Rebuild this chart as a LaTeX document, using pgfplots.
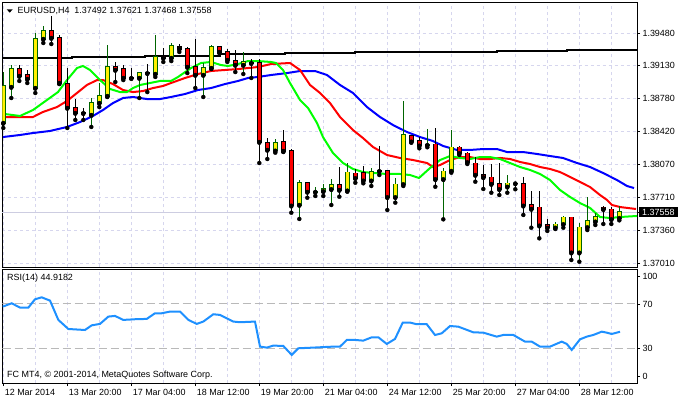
\documentclass[border=0pt]{standalone}
\usepackage{pgfplots}
\pgfplotsset{compat=1.18}
\usepackage{pgfplotstable}
\usepackage{fontspec}
\setmainfont{Liberation Sans}
\newcommand\cf{\fontsize{9}{10.8}\selectfont}
\definecolor{gridc}{RGB}{214,214,238}
\definecolor{bullw}{RGB}{0,100,0}
\definecolor{rsic}{RGB}{30,144,255}
\definecolor{lvl}{RGB}{185,185,185}
\definecolor{pline}{RGB}{205,205,225}

\pgfplotstableread{
k O H L C
0 1.38514 1.39061 1.38460 1.38911
1 1.38900 1.39136 1.38782 1.39093
4 1.38889 1.39480 1.38836 1.39416
5 1.39416 1.39555 1.39373 1.39501
11 1.38599 1.38782 1.38471 1.38728
12 1.38728 1.38943 1.38685 1.38803
13 1.38803 1.39351 1.38793 1.39115
17 1.38997 1.39054 1.38782 1.39050
19 1.39040 1.39459 1.39008 1.39222
21 1.39212 1.39373 1.39179 1.39340
25 1.39029 1.39158 1.38793 1.39104
26 1.39104 1.39351 1.39093 1.39330
30 1.39136 1.39276 1.39040 1.39169
34 1.38216 1.38342 1.38195 1.38302
37 1.37633 1.37901 1.37483 1.37869
39 1.37773 1.37826 1.37730 1.37775
40 1.37780 1.37858 1.37730 1.37805
41 1.37802 1.37912 1.37633 1.37848
43 1.37787 1.38081 1.37776 1.37984
46 1.37894 1.38027 1.37837 1.37991
49 1.37716 1.37920 1.37658 1.37855
50 1.37855 1.38753 1.37837 1.38385
53 1.38277 1.38449 1.38253 1.38279
55 1.37909 1.38030 1.37479 1.37995
56 1.37998 1.38438 1.37980 1.38253
63 1.37829 1.37955 1.37765 1.37866
69 1.37389 1.37447 1.37375 1.37426
70 1.37426 1.37515 1.37389 1.37501
72 1.37121 1.37443 1.37024 1.37393
73 1.37393 1.37716 1.37364 1.37461
74 1.37454 1.37550 1.37418 1.37507
77 1.37492 1.37621 1.37468 1.37558
}\bull

\pgfplotstableread{
k O H L C
2 1.39093 1.39136 1.38965 1.39018
3 1.39029 1.39083 1.38943 1.38986
6 1.39501 1.39663 1.39362 1.39426
7 1.39426 1.39459 1.38932 1.38943
8 1.38932 1.39104 1.38460 1.38675
9 1.38675 1.38771 1.38546 1.38621
10 1.38621 1.38675 1.38546 1.38619
14 1.39115 1.39169 1.38954 1.39083
15 1.39093 1.39136 1.38975 1.38997
16 1.38997 1.39104 1.38992 1.38995
18 1.39050 1.39147 1.38846 1.39048
20 1.39233 1.39319 1.39169 1.39212
22 1.39330 1.39362 1.39276 1.39308
23 1.39308 1.39330 1.39050 1.39115
24 1.39115 1.39416 1.38889 1.39029
27 1.39330 1.39340 1.39265 1.39276
28 1.39276 1.39308 1.39169 1.39190
29 1.39179 1.39297 1.39061 1.39136
31 1.39158 1.39201 1.38997 1.39156
32 1.39158 1.39201 1.38084 1.38309
33 1.38302 1.38352 1.38127 1.38224
35 1.38309 1.38438 1.38202 1.38213
36 1.38213 1.38234 1.37550 1.37625
38 1.37869 1.37872 1.37711 1.37773
42 1.37848 1.38041 1.37722 1.37794
44 1.37973 1.38016 1.37872 1.37920
45 1.37977 1.38052 1.37866 1.37894
47 1.37998 1.38267 1.37955 1.37996
48 1.37998 1.38000 1.37579 1.37716
51 1.38374 1.38387 1.38302 1.38313
52 1.38320 1.38360 1.38242 1.38270
54 1.38285 1.38457 1.37829 1.37909
57 1.38253 1.38267 1.38170 1.38188
58 1.38188 1.38205 1.38073 1.38091
59 1.38081 1.38152 1.37883 1.37955
60 1.37955 1.38062 1.37805 1.37930
61 1.37930 1.38073 1.37765 1.37858
62 1.37858 1.38087 1.37740 1.37802
64 1.37866 1.37883 1.37802 1.37864
65 1.37858 1.37930 1.37526 1.37625
66 1.37633 1.37787 1.37389 1.37590
67 1.37608 1.37787 1.37275 1.37411
68 1.37418 1.37479 1.37354 1.37389
71 1.37501 1.37503 1.37042 1.37121
75 1.37608 1.37622 1.37429 1.37587
76 1.37587 1.37608 1.37429 1.37479
}\bear

\pgfplotsset{
  wick/.style={only marks, mark=none, forget plot, error bars/.cd, y dir=plus, y explicit, error mark=none, error bar style={line width=1bp, solid, draw=#1}},
  body/.style 2 args={only marks, mark=none, forget plot, error bars/.cd, y dir=plus, y explicit, error mark=none, error bar style={line width=#2, solid, draw=#1}},
}

\begin{document}
\begin{tikzpicture}
\path[use as bounding box] (0,0) rectangle (680bp,-400bp);

\begin{axis}[
  at={(2.5bp,-2.3bp)}, anchor=north west, scale only axis,
  width=634.5bp, height=264.7bp,
  xmin=-0.1, xmax=79.21, ymin=1.36967, ymax=1.39810,
  axis line style={line width=0.9bp, black},
  xtick={0,4,...,76}, xticklabels={}, xtick style={draw=none},
  xmajorgrids, ymajorgrids,
  major grid style={gridc, dash pattern=on 3bp off 3bp, line width=0.8bp},
  ytick={1.37010,1.37360,1.37710,1.38070,1.38420,1.38780,1.39130,1.39480},
  yticklabels={1.37010,1.37360,1.37710,1.38070,1.38420,1.38780,1.39130,1.39480},
  ytick pos=right, tick align=outside, major tick length=3bp,
  ytick style={black, line width=0.8bp},
  yticklabel style={font=\cf, anchor=west, xshift=-1bp},
  extra y ticks={1.37558}, extra y tick labels={1.37558},
  extra y tick style={ymajorgrids, major grid style={pline, solid, line width=0.8bp},
     tick label style={fill=black, text=white, inner xsep=3bp, inner ysep=1.5bp}},
]
\addplot[black, line width=2bp, const plot] coordinates {(-0.1,1.39215) (8.6,1.39225) (17.7,1.39236) (27.1,1.39251) (35.2,1.39262) (44.0,1.39273) (53.0,1.39279) (61.7,1.39287) (70.5,1.39297) (79.21,1.39297)};
\addplot[blue, line width=2bp] coordinates {(-0.04,1.38363) (2.09,1.38385) (3.71,1.38406) (5.84,1.38428) (7.96,1.38471) (9.59,1.38524) (11.21,1.38589) (12.46,1.38653) (13.71,1.38728) (14.96,1.38782) (16.21,1.38793) (17.96,1.38771) (19.59,1.38771) (20.96,1.38793) (22.71,1.38825) (24.34,1.38868) (25.96,1.38889) (27.71,1.38932) (29.34,1.38965) (30.59,1.38997) (31.84,1.39008) (33.46,1.39029) (35.46,1.39050) (37.09,1.39072) (38.96,1.39072) (40.46,1.39029) (42.09,1.38922) (43.71,1.38836) (45.46,1.38685) (47.09,1.38578) (48.71,1.38492) (50.46,1.38417) (52.09,1.38363) (53.71,1.38320) (54.96,1.38267) (56.71,1.38224) (58.34,1.38224) (59.96,1.38234) (61.71,1.38234) (62.96,1.38202) (64.96,1.38202) (66.71,1.38181) (68.34,1.38159) (69.96,1.38138) (71.71,1.38084) (73.34,1.38041) (74.96,1.37977) (76.71,1.37901) (77.96,1.37837) (78.84,1.37815)};
\addplot[red, line width=2bp] coordinates {(0.21,1.38578) (2.09,1.38578) (3.71,1.38578) (4.96,1.38632) (6.71,1.38685) (7.96,1.38750) (9.21,1.38836) (10.46,1.38922) (11.71,1.38975) (12.46,1.38975) (13.71,1.38932) (14.96,1.38868) (16.21,1.38846) (17.46,1.38857) (18.71,1.38889) (19.96,1.38911) (20.96,1.38943) (22.71,1.38997) (24.34,1.39040) (25.96,1.39072) (27.71,1.39083) (29.34,1.39093) (30.59,1.39104) (31.84,1.39115) (33.46,1.39147) (35.84,1.39158) (37.09,1.39083) (38.34,1.38922) (39.59,1.38836) (40.84,1.38728) (42.09,1.38578) (43.71,1.38438) (44.96,1.38352) (46.21,1.38256) (47.96,1.38170) (49.59,1.38138) (51.21,1.38116) (52.96,1.38084) (53.71,1.38041) (54.59,1.38062) (55.84,1.38116) (57.09,1.38148) (58.34,1.38148) (59.59,1.38127) (60.84,1.38127) (62.09,1.38138) (63.34,1.38127) (64.59,1.38095) (65.84,1.38073) (67.09,1.38041) (68.34,1.38020) (69.59,1.37987) (70.84,1.37934) (72.09,1.37880) (73.34,1.37826) (74.59,1.37740) (75.46,1.37687) (76.09,1.37633) (77.09,1.37611) (79.09,1.37590)};
\addplot[green, line width=2bp] coordinates {(0.21,1.38610) (2.09,1.38589) (3.71,1.38653) (5.46,1.38761) (6.84,1.38846) (7.96,1.38975) (9.21,1.39104) (9.96,1.39126) (10.84,1.39083) (12.09,1.38975) (13.34,1.38879) (14.59,1.38846) (15.46,1.38846) (16.21,1.38889) (17.09,1.38922) (18.34,1.38943) (19.59,1.38965) (20.96,1.38965) (21.84,1.39008) (23.46,1.39104) (24.71,1.39158) (25.96,1.39169) (27.21,1.39136) (28.09,1.39126) (29.34,1.39147) (30.59,1.39179) (31.84,1.39179) (33.46,1.39169) (34.09,1.39158) (34.96,1.39083) (35.84,1.38943) (37.09,1.38761) (38.09,1.38675) (39.21,1.38514) (39.96,1.38363) (41.21,1.38191) (42.46,1.38084) (43.71,1.38020) (44.96,1.37987) (46.21,1.37977) (47.96,1.37966) (49.59,1.37966) (50.84,1.37955) (51.96,1.37923) (53.34,1.38030) (54.59,1.38116) (55.84,1.38159) (57.09,1.38138) (58.34,1.38127) (59.59,1.38148) (60.84,1.38148) (62.09,1.38127) (63.34,1.38084) (64.59,1.38041) (65.84,1.38009) (67.09,1.37966) (68.34,1.37901) (69.59,1.37794) (70.84,1.37719) (72.09,1.37654) (73.34,1.37601) (74.59,1.37504) (75.84,1.37493) (77.09,1.37504) (79.21,1.37515)};

\addplot[wick=bullw] table[x=k, y=L, y error expr=\thisrow{H}-\thisrow{L}] {\bull};
\addplot[wick=black] table[x=k, y=L, y error expr=\thisrow{H}-\thisrow{L}] {\bear};
\addplot[body={bullw}{5bp}] table[x=k, y expr={min(\thisrow{O},\thisrow{C})-0.00007}, y error expr={abs(\thisrow{C}-\thisrow{O})+0.00014}] {\bull};
\addplot[body={yellow}{3bp}] table[x=k, y expr={min(\thisrow{O},\thisrow{C})}, y error expr={abs(\thisrow{C}-\thisrow{O})}] {\bull};
\addplot[body={black}{5bp}] table[x=k, y expr={min(\thisrow{O},\thisrow{C})-0.00007}, y error expr={abs(\thisrow{C}-\thisrow{O})+0.00014}] {\bear};
\addplot[body={red}{3bp}] table[x=k, y expr={min(\thisrow{O},\thisrow{C})}, y error expr={abs(\thisrow{C}-\thisrow{O})}] {\bear};
\end{axis}

\begin{axis}[
  at={(2.5bp,-269.5bp)}, anchor=north west, scale only axis,
  width=634.5bp, height=113.5bp,
  xmin=-0.1, xmax=79.21, ymin=-1.35, ymax=101.1,
  axis line style={line width=0.9bp, black},
  xtick={0,8,...,72},
  xticklabels={12 Mar 2014,13 Mar 20:00,17 Mar 04:00,18 Mar 12:00,19 Mar 20:00,21 Mar 04:00,24 Mar 12:00,25 Mar 20:00,27 Mar 04:00,28 Mar 12:00},
  minor xtick={4,12,...,76},
  xmajorgrids, xminorgrids,
  major grid style={gridc, dash pattern=on 3bp off 3bp, line width=0.8bp},
  minor grid style={gridc, dash pattern=on 3bp off 3bp, line width=0.8bp},
  minor tick length=0bp,
  ytick={5,30,70}, yticklabels={0,30,70},
  extra y ticks={95}, extra y tick labels={100},
  ytick pos=right, xtick pos=bottom, tick align=outside,
  major tick length=3bp,
  tick style={black, line width=0.8bp},
  yticklabel style={font=\cf, anchor=west, xshift=-1bp},
  xticklabel style={font=\cf, anchor=north west, xshift=-2bp},
]
\addplot[lvl, dash pattern=on 8bp off 4bp, line width=1bp] coordinates {(-0.1,70) (79.21,70)};
\addplot[lvl, dash pattern=on 8bp off 4bp, line width=1bp] coordinates {(-0.1,30) (79.21,30)};
\addplot[rsic, line width=2bp] coordinates {(-0.07,67.6) (1.05,70.6) (2.09,66.7) (3.13,66.7) (3.96,74.2) (4.8,76.0) (5.84,73.0) (6.88,55.6) (8.13,47.4) (10.21,46.5) (11.05,50.7) (12.09,52.0) (13.13,58.6) (13.96,59.2) (15.0,55.6) (16.46,56.2) (17.93,56.5) (18.96,61.6) (19.8,61.6) (20.84,63.1) (22.09,63.1) (23.13,55.6) (24.18,52.0) (25.0,54.1) (26.25,60.7) (27.09,60.1) (28.75,54.1) (29.59,53.5) (31.46,54.1) (32.09,31.5) (32.93,30.6) (33.75,32.4) (35.0,32.1) (36.05,24.0) (36.88,30.0) (38.75,30.6) (41.25,31.5) (42.09,31.5) (42.93,37.5) (43.96,37.5) (45.0,36.9) (46.05,39.9) (46.88,39.9) (47.93,33.9) (48.96,38.4) (49.93,53.2) (50.84,53.2) (51.68,51.7) (52.93,51.7) (53.96,42.0) (54.8,43.5) (55.84,50.1) (56.88,49.5) (58.75,44.4) (60.0,44.1) (61.68,40.5) (62.5,42.0) (63.75,42.0) (65.21,36.0) (66.05,36.0) (67.09,31.5) (68.34,31.5) (69.8,36.0) (70.43,33.9) (71.05,28.5) (72.09,38.1) (72.93,40.5) (73.75,42.0) (74.8,45.0) (75.43,44.1) (76.05,42.9) (77.09,44.9)};
\end{axis}

\fill[black] (6.7bp,-9.3bp) -- (12.7bp,-9.3bp) -- (9.7bp,-12.7bp) -- cycle;
\node[anchor=west, inner sep=0pt, font=\cf] at (17.5bp,-11bp) {EURUSD,H4 \ 1.37492 1.37621 1.37468 1.37558};
\node[anchor=west, inner sep=0pt, font=\cf] at (7bp,-278bp) {RSI(14) 44.9182};
\node[anchor=west, inner sep=0pt, font=\cf] at (7bp,-375bp) {FC MT4, © 2001-2014, MetaQuotes Software Corp.};
\end{tikzpicture}
\end{document}
